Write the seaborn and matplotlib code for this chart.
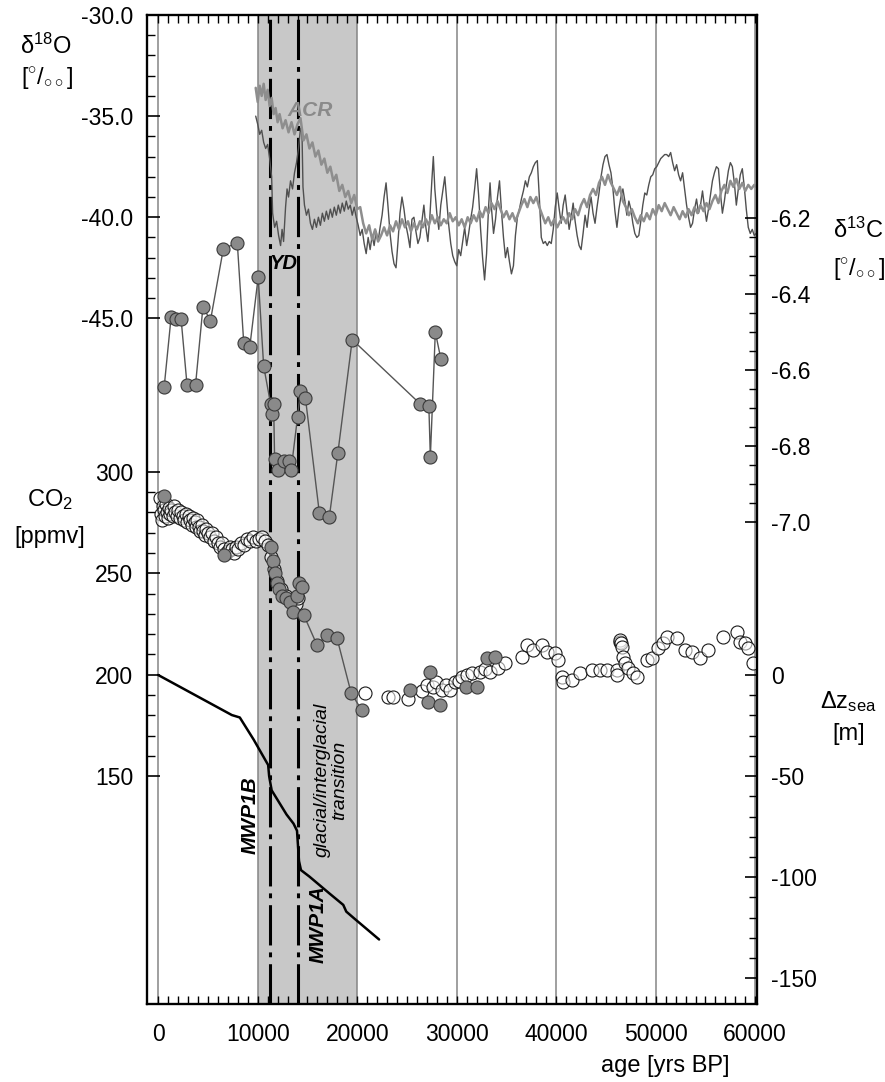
import matplotlib
matplotlib.use("Agg")
import matplotlib.pyplot as plt
from matplotlib.ticker import FixedLocator, FixedFormatter
import seaborn as sns

# ---------------- data ----------------
# Antarctic d18O (grey, "ACR" curve)
byrd_age = [9800, 10000, 10200, 10400, 10600, 10800, 11000, 11200, 11400, 11600,
            11800, 12000, 12200, 12500, 12800, 13100, 13400, 13700, 14000, 14300,
            14600, 14900, 15200, 15500, 15800, 16100, 16400, 16700, 17000, 17300,
            17600, 17900, 18200, 18500, 18800, 19100, 19400, 19700, 20000, 20300,
            20600, 20900, 21200, 21500, 21800, 22100, 22400, 22700, 23000, 23300,
            23600, 23900, 24200, 24500, 24800, 25100, 25400, 25700, 26000, 26300,
            26600, 26900, 27200, 27500, 27800, 28100, 28400, 28700, 29000, 29300,
            29600, 29900, 30200, 30500, 30800, 31100, 31400, 31700, 32000, 32300,
            32600, 32900, 33200, 33500, 33800, 34100, 34400, 34700, 35000, 35300,
            35600, 35900, 36200, 36500, 36800, 37100, 37400, 37700, 38000, 38300,
            38600, 38900, 39200, 39500, 39800, 40100, 40400, 40700, 41000, 41300,
            41600, 41900, 42200, 42500, 42800, 43100, 43400, 43700, 44000, 44300,
            44600, 44900, 45200, 45500, 45800, 46100, 46400, 46700, 47000, 47300,
            47600, 47900, 48200, 48500, 48800, 49100, 49400, 49700, 50000, 50300,
            50600, 50900, 51200, 51500, 51800, 52100, 52400, 52700, 53000, 53300,
            53600, 53900, 54200, 54500, 54800, 55100, 55400, 55700, 56000, 56300,
            56600, 56900, 57200, 57500, 57800, 58100, 58400, 58700, 59000, 59300,
            59600, 59900, 60100]
byrd_d18o = [-33.6, -34.3, -33.5, -34.0, -33.4, -34.2, -33.7, -34.5, -34.1, -34.9,
             -34.6, -35.3, -34.9, -35.6, -35.2, -35.8, -35.3, -35.9, -35.4, -35.1,
             -36.2, -35.9, -36.6, -36.3, -37.0, -36.7, -37.4, -37.1, -37.8, -37.5,
             -38.2, -37.9, -38.7, -38.4, -39.0, -38.7, -39.3, -38.9, -39.6, -39.5,
             -40.3, -40.8, -40.4, -41.1, -40.6, -41.2, -40.9, -40.5, -40.9, -40.4,
             -40.7, -40.2, -40.6, -40.1, -40.5, -40.2, -40.7, -40.3, -40.6, -40.2,
             -40.5, -40.1, -40.4, -39.9, -40.3, -40.0, -40.4, -40.1, -40.3, -39.8,
             -40.2, -40.0, -40.4, -40.1, -40.5, -40.0, -40.3, -39.9, -40.2, -39.7,
             -40.0, -39.5, -39.8, -39.3, -39.6, -39.2, -39.6, -40.0, -39.7, -40.1,
             -39.8, -40.2, -39.8, -39.4, -39.1, -39.5, -39.0, -39.3, -39.0, -39.5,
             -39.9, -40.3, -40.0, -40.4, -40.1, -40.5, -40.2, -40.0, -40.3, -39.8,
             -40.1, -39.6, -39.9, -39.4, -39.1, -39.5, -38.9, -38.6, -38.9, -38.3,
             -38.0, -38.4, -37.9, -38.3, -38.6, -38.9, -38.5, -39.2, -39.5, -39.9,
             -39.6, -40.0, -40.3, -39.9, -40.2, -39.8, -40.1, -39.6, -39.9, -39.4,
             -39.7, -39.3, -39.6, -39.9, -39.5, -39.8, -40.1, -39.7, -40.0, -39.6,
             -39.9, -39.5, -39.8, -39.4, -39.7, -39.3, -39.6, -39.2, -38.9, -39.3,
             -38.7, -38.4, -38.8, -38.2, -38.5, -38.1, -38.6, -38.3, -38.7, -38.4,
             -38.6, -38.4, -38.5]

# Greenland d18O (thin dark curve)
gisp_age = [9800, 10000, 10200, 10400, 10600, 10800, 11000, 11200, 11400, 11500,
            11700, 11900, 12100, 12300, 12450, 12600, 12800, 12950, 13100, 13300,
            13500, 13700, 13900, 14100, 14300, 14450, 14550, 14700, 14900, 15100,
            15300, 15500, 15700, 15900, 16100, 16300, 16500, 16700, 16900, 17100,
            17300, 17500, 17700, 17900, 18100, 18300, 18500, 18700, 18900, 19100,
            19300, 19500, 19700, 19900, 20100, 20300, 20500, 20700, 20900, 21100,
            21300, 21500, 21700, 21900, 22100, 22300, 22500, 22700, 22900, 23100,
            23300, 23500, 23700, 23900, 24100, 24300, 24500, 24700, 24900, 25100,
            25300, 25500, 25700, 25900, 26100, 26300, 26500, 26700, 26900, 27100,
            27300, 27500, 27650, 27800, 28000, 28200, 28400, 28600, 28800, 29000,
            29200, 29400, 29600, 29800, 30000, 30200, 30400, 30600, 30800, 31000,
            31200, 31400, 31600, 31800, 32000, 32200, 32400, 32600, 32800, 33000,
            33200, 33350, 33500, 33700, 33900, 34100, 34300, 34500, 34700, 34900,
            35100, 35300, 35500, 35700, 35900, 36100, 36300, 36500, 36700, 36900,
            37100, 37300, 37500, 37700, 37900, 38100, 38300, 38500, 38700, 38900,
            39100, 39300, 39500, 39700, 39900, 40100, 40300, 40500, 40700, 40900,
            41100, 41300, 41500, 41700, 41900, 42100, 42300, 42500, 42700, 42900,
            43100, 43300, 43500, 43700, 43900, 44100, 44300, 44500, 44700, 44900,
            45100, 45300, 45500, 45700, 45900, 46100, 46300, 46500, 46700, 46900,
            47100, 47300, 47500, 47700, 47900, 48100, 48300, 48500, 48700, 48900,
            49100, 49300, 49500, 49700, 49900, 50100, 50300, 50500, 50700, 50900,
            51100, 51300, 51500, 51700, 51900, 52100, 52300, 52500, 52700, 52900,
            53100, 53300, 53500, 53700, 53900, 54100, 54300, 54500, 54700, 54900,
            55100, 55300, 55500, 55700, 55900, 56100, 56300, 56500, 56700, 56900,
            57100, 57300, 57500, 57700, 57900, 58100, 58300, 58500, 58700, 58900,
            59100, 59300, 59500, 59700, 59900, 60100]
gisp_d18o = [-35.0, -35.4, -35.9, -35.7, -36.3, -36.6, -36.4, -37.1, -38.0, -39.8,
             -40.5, -40.2, -40.9, -41.4, -40.6, -41.2, -39.5, -38.6, -39.0, -38.2,
             -38.6, -37.8, -37.3, -36.6, -35.6, -35.8, -38.5, -39.4, -39.9, -39.6,
             -40.3, -40.6, -40.1, -40.5, -40.0, -40.4, -39.8, -40.2, -39.7, -40.1,
             -39.6, -40.0, -39.5, -39.9, -39.4, -39.8, -39.3, -39.7, -39.2, -39.6,
             -39.4, -39.9, -39.5, -40.0, -40.4, -40.9, -40.6, -41.3, -41.8, -41.0,
             -41.6, -40.9, -41.4, -40.7, -41.2, -40.5, -39.9, -39.0, -38.3, -39.5,
             -40.8, -41.7, -42.3, -42.5, -41.2, -39.8, -39.0, -39.6, -40.4, -40.9,
             -41.5, -40.1, -40.0, -40.7, -41.3, -41.0, -40.2, -39.4, -40.5, -41.2,
             -40.0, -38.2, -37.0, -38.6, -39.8, -40.6, -39.4, -38.7, -38.0, -39.2,
             -40.4, -41.3, -41.9, -42.2, -42.4, -41.6, -41.9, -41.2, -40.5, -41.4,
             -40.8, -40.1, -39.5, -38.6, -37.6, -38.9, -40.6, -42.0, -43.1, -41.8,
             -39.5, -38.3, -39.6, -40.8, -40.1, -39.0, -38.2, -39.7, -41.0, -42.0,
             -41.5, -42.2, -42.8, -42.4, -40.9, -40.0, -39.6, -39.1, -38.7, -38.2,
             -38.5, -38.0, -37.8, -37.5, -37.3, -37.2, -39.0, -41.0, -41.3, -41.2,
             -41.4, -41.2, -41.3, -40.6, -39.5, -38.8, -39.6, -40.3, -39.4, -38.9,
             -39.8, -40.6, -40.0, -39.3, -40.2, -40.9, -41.4, -41.6, -40.8, -39.9,
             -40.5, -39.6, -39.0, -39.8, -40.3, -39.5, -38.8, -38.0, -37.4, -37.0,
             -36.9, -37.4, -37.8, -38.6, -39.7, -40.5, -39.6, -39.0, -38.6, -39.2,
             -39.9, -39.2, -39.6, -40.3, -40.8, -41.0, -40.9, -40.2, -39.4, -38.8,
             -38.9, -38.4, -38.0, -37.9, -37.6, -37.5, -37.3, -37.1, -37.0, -36.9,
             -36.9, -37.0, -36.8, -37.3, -37.7, -37.4, -37.9, -38.2, -37.8, -38.6,
             -39.4, -40.0, -40.5, -40.3, -39.6, -39.1, -39.8, -39.4, -38.7, -39.5,
             -40.2, -39.6, -38.9, -38.2, -37.8, -37.5, -37.6, -38.8, -39.8, -39.2,
             -38.4, -37.7, -37.3, -37.5, -38.3, -39.4, -38.6, -37.9, -37.6, -38.5,
             -39.6, -40.5, -40.8, -40.6, -40.9, -40.8]

# d13C (grey filled circles, connected)
d13c_age = [600, 1300, 1800, 2300, 2900, 3750, 4500, 5250, 6550, 7950,
            8600, 9200, 10050, 10600, 11300, 11450, 11600, 11700, 12050, 12600,
            13100, 13350, 14000, 14300, 14800, 16200, 17200, 18050, 19500, 26350,
            27200, 27350, 27850, 28400]
d13c = [-6.645, -6.46, -6.465, -6.465, -6.64, -6.64, -6.433, -6.47, -6.28, -6.265,
        -6.53, -6.54, -6.355, -6.59, -6.69, -6.715, -6.69, -6.835, -6.865, -6.84,
        -6.84, -6.865, -6.725, -6.655, -6.675, -6.978, -6.987, -6.82, -6.52, -6.69,
        -6.695, -6.83, -6.50, -6.57]

# CO2, open circles
co2_open_age = [200, 300, 400, 500, 600, 700, 800, 900, 1000, 1100,
                1200, 1300, 1450, 1600, 1700, 1850, 2000, 2150, 2300, 2450,
                2600, 2750, 2900, 3050, 3200, 3350, 3500, 3650, 3800, 3950,
                4100, 4250, 4400, 4550, 4700, 4850, 5000, 5200, 5400, 5600,
                5800, 6000, 6200, 6400, 6600, 6800, 7000, 7200, 7400, 7600,
                7800, 8000, 8300, 8600, 8900, 9200, 9500, 9800, 10100, 10400,
                10700, 11000, 11300, 11600, 11900, 12300, 12800, 13300, 13800, 14100,
                20800, 23130, 23630, 25140, 26500, 26980, 27650, 27900, 28490, 28900,
                29330, 29830, 30200, 30500, 31000, 31510, 32340, 32800, 33350, 34180,
                34860, 36530, 37040, 37700, 38540, 39050, 39880, 40210, 40550, 40720,
                41560, 42390, 43570, 44400, 45070, 46080, 46100, 46410, 46450, 46500,
                46580, 46740, 46910, 47250, 47750, 48090, 49100, 49600, 50260, 50760,
                51100, 52110, 52950, 53620, 54450, 55290, 56790, 58140, 58470, 58970,
                59310, 59810]
co2_open = [287, 279, 276, 283, 281, 278, 284, 280, 277, 282,
            279, 281, 278, 283, 280, 278, 281, 277, 280, 278,
            276, 279, 275, 278, 276, 274, 277, 275, 273, 276,
            273, 271, 274, 271, 269, 272, 270, 268, 270, 266,
            268, 265, 263, 265, 262, 260, 261, 263, 262, 260,
            263, 262, 265, 264, 267, 266, 268, 266, 267, 268,
            266, 264, 258, 252, 246, 242, 239, 237, 235, 238,
            190.8, 188.8, 188.8, 187.8, 192, 194.9, 194, 196.5, 192.4, 195,
            192.4, 196.5, 197, 199, 199.8, 200.6, 201.4, 203, 201.4, 203.1,
            205.6, 208.8, 214.6, 212.1, 214.6, 211.3, 210.5, 207.2, 199, 196.5,
            197.3, 200.6, 202.3, 202.3, 202.3, 202.3, 199.8, 216.2, 217, 215.5,
            213.8, 208.8, 205.6, 203.1, 200.6, 199, 207.2, 208, 213, 215.4,
            218.7, 217.9, 212.1, 211.3, 208, 212.1, 218.7, 221.1, 216.2, 215.4,
            213, 205.6]

# CO2, grey filled circles
co2_fill_age = [550, 6600, 11300, 11500, 11700, 11900, 12100, 12400, 12800, 13200,
                13500, 13900, 14200, 14450, 14620, 15960, 16960, 17970, 19400, 20450,
                25310, 27150, 27320, 28320, 30930, 32010, 33010, 33850]
co2_fill = [288, 259, 263, 256, 250, 245, 242, 239, 238, 236,
            231, 239, 245, 243, 229.5, 214.6, 219.5, 218, 190.8, 182.6,
            192.4, 186.6, 201.4, 185, 194, 194, 208, 208.8]

# sea level
sea_age = [0, 7400, 8200, 9600, 11050, 11150, 11400, 12900, 13600, 13950,
           14150, 14350, 15200, 17200, 18600, 18900, 19700, 22200]
sea_level = [0, -19.8, -21, -32, -44.5, -50, -57, -69, -73.5, -77,
             -92, -96.5, -99.7, -108, -113.7, -117, -120.4, -130.8]

yd_bounds = [11250, 14000]
transition = [10000, 20000]

age_ticks = [0, 10000, 20000, 30000, 40000, 50000, 60000]
d18o_ticks = [-30, -35, -40, -45]
co2_ticks = [150, 200, 250, 300]
d13c_ticks = [-6.2, -6.4, -6.6, -6.8, -7.0]
sea_ticks = [0, -50, -100, -150]

# ---------------- style ----------------
sns.set_style("white")
plt.rcParams["font.family"] = ["Liberation Sans", "DejaVu Sans"]
plt.rcParams["text.color"] = "black"
plt.rcParams["mathtext.fontset"] = "custom"
plt.rcParams["mathtext.rm"] = "Liberation Sans"
plt.rcParams["mathtext.it"] = "Liberation Sans:italic"
plt.rcParams["mathtext.bf"] = "Liberation Sans:bold"
plt.rcParams["lines.scale_dashes"] = False

TICK_FS = 16.5
LABEL_FS = 17

fig = plt.figure(figsize=(8.85, 10.82), dpi=100)
ax = fig.add_axes([0.1661, 0.0721, 0.6893, 0.9140])
ax_c13 = ax.twinx()
ax_co2 = ax.twinx()
ax_sea = ax.twinx()

xlim = (-1125, 60180)

# d18O panel, also holds the band, grid and event lines
ax.axvspan(*transition, color="#c8c8c8", lw=0, zorder=0)
for a in yd_bounds:
    ax.axvline(a, color="black", lw=2.2, ls=(0, (29, 5, 3.5, 5)), zorder=1.5)
sns.lineplot(x=gisp_age, y=gisp_d18o, ax=ax, color="#505050", lw=1.0,
             sort=False, estimator=None)
sns.lineplot(x=byrd_age, y=byrd_d18o, ax=ax, color="#8e8e8e", lw=1.8,
             sort=False, estimator=None)
ax.set_xlim(*xlim)
ax.set_ylim(-78.91, -30.0)

# d13C
sns.lineplot(x=d13c_age, y=d13c, ax=ax_c13, color="#555555", lw=1.0,
             sort=False, estimator=None)
sns.scatterplot(x=d13c_age, y=d13c, ax=ax_c13, s=88, color="#8a8a8a",
                edgecolor="#3a3a3a", linewidth=0.8, zorder=3)
ax_c13.set_ylim(-8.272, -5.664)

# CO2
line_sel = [(a, v) for a, v in zip(co2_fill_age, co2_fill) if 14600 <= a <= 20500]
sns.lineplot(x=[p[0] for p in line_sel], y=[p[1] for p in line_sel], ax=ax_co2,
             color="#555555", lw=1.0, sort=False, estimator=None)
sns.scatterplot(x=co2_open_age, y=co2_open, ax=ax_co2, s=88, color=(1, 1, 1, 0.55),
                edgecolor="#1a1a1a", linewidth=0.8, zorder=3)
sns.scatterplot(x=co2_fill_age, y=co2_fill, ax=ax_co2, s=88, color="#888888",
                edgecolor="#3a3a3a", linewidth=0.8, zorder=4)
ax_co2.set_ylim(37.7, 525.1)

# sea level
sns.lineplot(x=sea_age, y=sea_level, ax=ax_sea, color="black", lw=1.8,
             sort=False, estimator=None)
ax_sea.set_ylim(-162.7, 326.4)

for a in (ax, ax_c13, ax_co2, ax_sea):
    a.set_xlim(*xlim)
    a.set_xlabel("")
    a.set_ylabel("")
    for sp in a.spines.values():
        sp.set_linewidth(1.5)
        sp.set_color("black")

# x axis: grid lines at the decades, small ticks every 1000 yrs
ax.xaxis.set_major_locator(FixedLocator(age_ticks))
ax.xaxis.set_major_formatter(FixedFormatter([str(t) for t in age_ticks]))
ax.xaxis.set_minor_locator(FixedLocator([t for t in range(0, 60001, 1000) if t % 10000]))
ax.xaxis.grid(True, which="major", color="#858585", lw=1.1)
ax.set_axisbelow(True)
ax.tick_params(axis="x", which="both", direction="in", top=True, bottom=True,
               length=5.5, width=1.0, labelsize=TICK_FS, pad=14, colors="black")


def stack_axis(a, side, major, minor, labels):
    if side == "left":
        a.yaxis.tick_left()
    else:
        a.yaxis.tick_right()
    a.yaxis.set_major_locator(FixedLocator(major))
    a.yaxis.set_major_formatter(FixedFormatter(labels))
    a.yaxis.set_minor_locator(FixedLocator(minor))
    a.tick_params(axis="y", which="major", direction="in", length=9, width=1.2,
                  labelsize=TICK_FS, pad=10, colors="black")
    a.tick_params(axis="y", which="minor", direction="in", length=6, width=1.0,
                  colors="black")


stack_axis(ax, "left", d18o_ticks, [-31, -32, -33, -34, -36, -37, -38, -39, -41, -42, -43, -44],
           ["-30.0", "-35.0", "-40.0", "-45.0"])
stack_axis(ax_co2, "left", co2_ticks, [t for t in range(160, 300, 10) if t % 50],
           ["150", "200", "250", "300"])
stack_axis(ax_c13, "right", d13c_ticks,
           [-6.25, -6.3, -6.35, -6.45, -6.5, -6.55, -6.65, -6.7, -6.75, -6.85, -6.9, -6.95],
           ["-6.2", "-6.4", "-6.6", "-6.8", "-7.0"])
stack_axis(ax_sea, "right", sea_ticks, [t for t in range(-140, 0, 10) if t % 50],
           ["0", "-50", "-100", "-150"])

# annotations inside the frame
ax.text(15260, -34.7, "ACR", color="#8a8a8a", fontsize=15, fontweight="bold",
        style="italic", ha="center", va="center")
ax.text(12560, -42.27, "YD", color="black", fontsize=14.5, fontweight="bold",
        style="italic", ha="center", va="center")
ax_sea.text(9230, -69.2, "MWP1B", rotation=90, fontsize=15, fontweight="bold",
            style="italic", ha="center", va="center")
ax_sea.text(16060, -123.1, "MWP1A", rotation=90, fontsize=15, fontweight="bold",
            style="italic", ha="center", va="center")
ax_sea.text(17370, -51.9, "glacial/interglacial\ntransition", rotation=90,
            fontsize=14, style="italic", ha="center", va="center",
            multialignment="center", linespacing=1.05)

# axis titles
fig.text(0.052, 0.9575, r"δ$^{18}$O", fontsize=LABEL_FS, ha="center", va="center")
fig.text(0.053, 0.928, r"[$^{\circ}$/$_{\circ\circ}$]", fontsize=LABEL_FS,
         ha="center", va="center")
fig.text(0.0565, 0.5379, r"CO$_2$", fontsize=LABEL_FS, ha="center", va="center")
fig.text(0.0565, 0.5037, "[ppmv]", fontsize=LABEL_FS, ha="center", va="center")
fig.text(0.9412, 0.7874, r"δ$^{13}$C", fontsize=LABEL_FS, ha="left", va="center")
fig.text(0.9412, 0.7514, r"[$^{\circ}$/$_{\circ\circ}$]", fontsize=LABEL_FS,
         ha="left", va="center")
fig.text(0.959, 0.3512, r"Δz$_{\mathregular{sea}}$", fontsize=LABEL_FS,
         ha="center", va="center")
fig.text(0.959, 0.3216, "[m]", fontsize=LABEL_FS, ha="center", va="center")
fig.text(0.7514, 0.0148, "age [yrs BP]", fontsize=LABEL_FS, ha="center", va="center")

fig.savefig("out.png", dpi=100)
